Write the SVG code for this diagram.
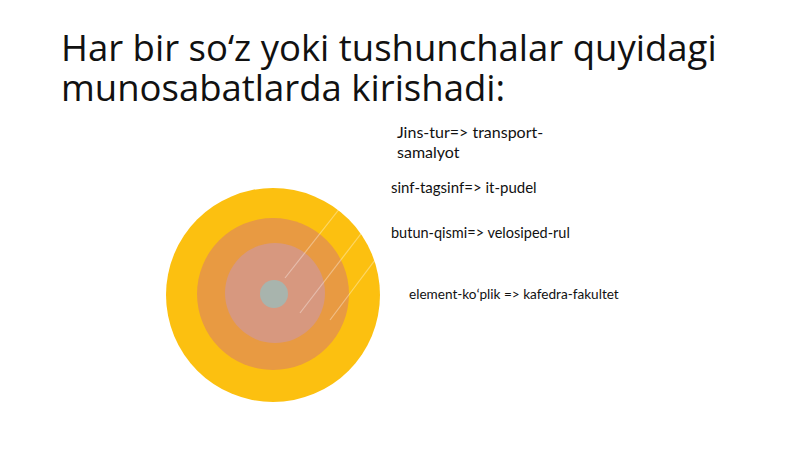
<svg xmlns="http://www.w3.org/2000/svg" width="800" height="449" viewBox="0 0 800 449">
<style>
.title{font-family:"Open Sans","Noto Sans",sans-serif;font-size:36.5px;fill:#111}
.lbl{font-family:Lato,"Liberation Sans",sans-serif;font-size:15px;fill:#111}
.conn{stroke:#ffffff;stroke-width:1.2;opacity:0.35;fill:none}
</style>
<rect width="800" height="449" fill="#ffffff"/>
<text class="title" x="61" y="61">Har bir so‘z yoki tushunchalar quyidagi</text>
<text class="title" x="61" y="101">munosabatlarda kirishadi:</text>
<g id="ring-outer"><circle cx="273" cy="295" r="107" fill="#FCC010"/></g>
<g id="ring-2"><circle cx="273" cy="294" r="76" fill="#E89A42"/></g>
<g id="ring-3"><circle cx="275" cy="293" r="50" fill="#D7987F"/></g>
<g id="ring-core"><circle cx="274" cy="294" r="14" fill="#A8B4AD"/></g>
<g id="connectors">
<line class="conn" x1="285" y1="278" x2="392" y2="142"/>
<line class="conn" x1="300" y1="313" x2="390" y2="196"/>
<line class="conn" x1="330" y1="320" x2="390" y2="240"/>
</g>
<g id="label-1"><text class="lbl" x="397" y="138" style="font-size:16px">Jins-tur=&gt; transport-<tspan x="397" y="158">samalyot</tspan></text></g>
<g id="label-2"><text class="lbl" x="391" y="193">sinf-tagsinf=&gt; it-pudel</text></g>
<g id="label-3"><text class="lbl" x="391" y="238" style="font-size:14.5px">butun-qismi=&gt; velosiped-rul</text></g>
<g id="label-4"><text class="lbl" x="409" y="299" style="font-size:13.6px">element-koʻplik =&gt; kafedra-fakultet</text></g>
</svg>
